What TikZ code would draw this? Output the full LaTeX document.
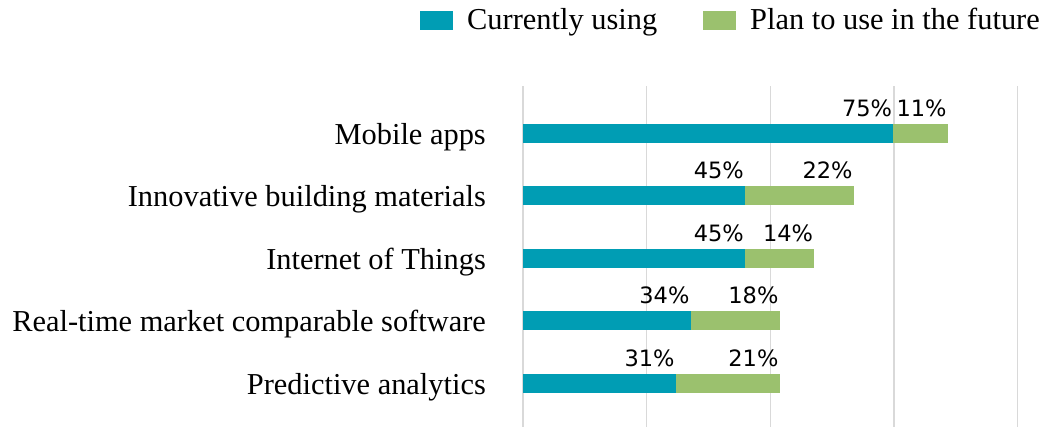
\documentclass[tikz,border=0pt]{standalone}
\usepackage{fontspec}
\setmainfont{Liberation Serif}
\newfontfamily\valuefont{DejaVu Sans}
\usepackage{tikz}
\usetikzlibrary{positioning, calc}
\definecolor{currentcolor}{RGB}{0, 157, 180}
\definecolor{plancolor}{RGB}{155, 193, 110}
\definecolor{gridcolor}{RGB}{217, 217, 217}

\begin{document}
\begin{tikzpicture}[
    x=1pt, y=1pt,
    gridline/.style={draw=gridcolor, line width=1.4pt},
    curbar/.style={fill=currentcolor, anchor=west, inner sep=0pt, outer sep=0pt, minimum height=18.7pt},
    planbar/.style={fill=plancolor, anchor=west, inner sep=0pt, outer sep=0pt, minimum height=18.7pt},
    catlabel/.style={font=\fontsize{30.4}{36}\selectfont, anchor=base east, inner sep=0pt},
    vallabel/.style={font=\valuefont\fontsize{22.5}{27}\selectfont, anchor=base east, inner sep=0pt},
    keybox/.style={minimum width=33pt, minimum height=19pt, inner sep=0pt, outer sep=0pt},
    keylabel/.style={font=\fontsize{30.4}{36}\selectfont, anchor=base west, inner sep=0pt}
]
    \useasboundingbox (0, 0) rectangle (1054, 427);

    % Legend
    \node[keybox, fill=currentcolor] (keycur) at (436.5, 406.5) {};
    \node[keylabel] (keycurtext) at ($(keycur.south east)+(14, 0)$) {Currently using};
    \node[keybox, fill=plancolor] (keyplan) at (719.5, 406.5) {};
    \node[keylabel] (keyplantext) at ($(keyplan.south east)+(14, 0)$) {Plan to use in the future};

    % Grid
    \draw[gridline] (523, 0) -- (523, 340.6);
    \draw[gridline] (646.6, 0) -- (646.6, 340.6);
    \draw[gridline] (770.2, 0) -- (770.2, 340.6);
    \draw[gridline] (893.8, 0) -- (893.8, 340.6);
    \draw[gridline] (1017.4, 0) -- (1017.4, 340.6);

    % Mobile apps
    \node[curbar, minimum width=370.8pt] (mobcur) at (522.5, 293.7) {};
    \node[planbar, minimum width=54.4pt] (mobplan) at (mobcur.east) {};
    \node[catlabel] (mobcat) at ($(mobcur.west)+(-36.5, -11)$) {Mobile apps};
    \node[vallabel] (mobcurval) at ($(mobcur.north east)+(-1, 7.6)$) {75\%};
    \node[vallabel] (mobplanval) at ($(mobplan.north east)+(-1, 7.6)$) {11\%};

    % Innovative building materials
    \node[curbar, minimum width=222.5pt] (matcur) at (522.5, 231.2) {};
    \node[planbar, minimum width=108.8pt] (matplan) at (matcur.east) {};
    \node[catlabel] (matcat) at ($(matcur.west)+(-36.5, -11)$) {Innovative building materials};
    \node[vallabel] (matcurval) at ($(matcur.north east)+(-1, 7.6)$) {45\%};
    \node[vallabel] (matplanval) at ($(matplan.north east)+(-1, 7.6)$) {22\%};

    % Internet of Things
    \node[curbar, minimum width=222.5pt] (iotcur) at (522.5, 168.7) {};
    \node[planbar, minimum width=69.2pt] (iotplan) at (iotcur.east) {};
    \node[catlabel] (iotcat) at ($(iotcur.west)+(-36.5, -11)$) {Internet of Things};
    \node[vallabel] (iotcurval) at ($(iotcur.north east)+(-1, 7.6)$) {45\%};
    \node[vallabel] (iotplanval) at ($(iotplan.north east)+(-1, 7.6)$) {14\%};

    % Real-time market comparable software
    \node[curbar, minimum width=168.1pt] (mktcur) at (522.5, 106.2) {};
    \node[planbar, minimum width=89pt] (mktplan) at (mktcur.east) {};
    \node[catlabel] (mktcat) at ($(mktcur.west)+(-36.5, -11)$) {Real-time market comparable software};
    \node[vallabel] (mktcurval) at ($(mktcur.north east)+(-1, 7.6)$) {34\%};
    \node[vallabel] (mktplanval) at ($(mktplan.north east)+(-1, 7.6)$) {18\%};

    % Predictive analytics
    \node[curbar, minimum width=153.3pt] (predcur) at (522.5, 43.7) {};
    \node[planbar, minimum width=103.8pt] (predplan) at (predcur.east) {};
    \node[catlabel] (predcat) at ($(predcur.west)+(-36.5, -11)$) {Predictive analytics};
    \node[vallabel] (predcurval) at ($(predcur.north east)+(-1, 7.6)$) {31\%};
    \node[vallabel] (predplanval) at ($(predplan.north east)+(-1, 7.6)$) {21\%};

\end{tikzpicture}
\end{document}
